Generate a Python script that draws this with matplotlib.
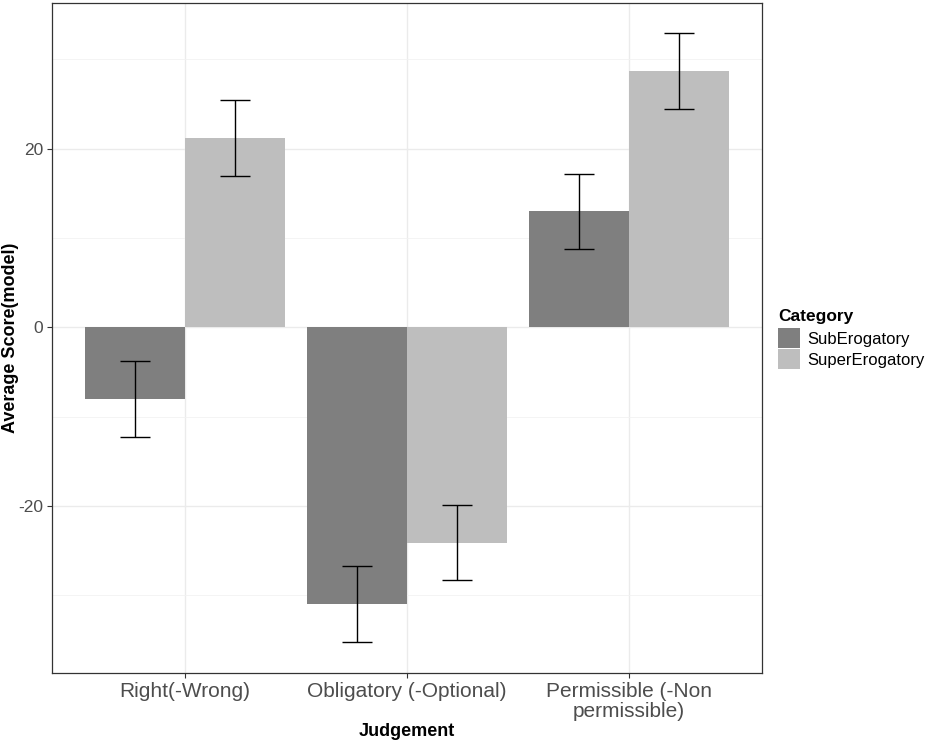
import matplotlib
matplotlib.use("Agg")
import matplotlib.pyplot as plt
from matplotlib.patches import Patch
import numpy as np

plt.rcParams['font.family'] = ['Liberation Sans', 'DejaVu Sans']

judgements = ["Right(-Wrong)", "Obligatory (-Optional)", "Permissible (-Non\npermissible)"]
categories = ["SubErogatory", "SuperErogatory"]
sub_means = [-8.0, -31.0, 13.0]
super_means = [21.2, -24.1, 28.7]
sub_err = [4.25, 4.25, 4.2]
super_err = [4.25, 4.2, 4.25]
colors = ["#7f7f7f", "#bebebe"]

fig = plt.figure(figsize=(9.26, 7.42), dpi=100)
ax = fig.add_axes([52/926, 69/742, 710/926, 670/742])

x = np.arange(1, len(judgements) + 1)
w = 0.45
for off, means, errs, col in [(-w/2, sub_means, sub_err, colors[0]),
                              (w/2, super_means, super_err, colors[1])]:
    ax.bar(x + off, means, width=w, color=col, zorder=2)
    ax.errorbar(x + off, means, yerr=errs, fmt='none', ecolor='black',
                elinewidth=1.0, capsize=11, capthick=1.0, zorder=3)

ax.set_xlim(0.4, 3.6)
ax.set_ylim(-38.7, 36.3)
ax.set_xticks(x)
ax.set_xticklabels(judgements, fontsize=15, color='#4d4d4d', linespacing=1.05)
ax.set_yticks([-20, 0, 20])
ax.set_yticklabels(["-20", "0", "20"], fontsize=12.5, color='#4d4d4d')
ax.set_yticks([-30, -10, 10, 30], minor=True)
ax.grid(True, which='major', color='#ebebeb', linewidth=1.0, zorder=0)
ax.grid(True, which='minor', axis='y', color='#f2f2f2', linewidth=0.6, zorder=0)
ax.tick_params(which='major', length=3.5, color='#333333', width=0.8, pad=3)
ax.tick_params(which='minor', length=0)
ax.set_axisbelow(True)
for s in ax.spines.values():
    s.set_color('#333333')
    s.set_linewidth(0.9)

ax.set_xlabel("Judgement", fontsize=13, fontweight='bold')
ax.xaxis.set_label_coords(0.5, -(731 - 673) / 670, transform=ax.transAxes)
ax.set_ylabel("Average Score(model)", fontsize=13, fontweight='bold')
ax.yaxis.set_label_coords(-(52 - 11) / 710, 0.5, transform=ax.transAxes)
ax.xaxis.label.set_va('center')
ax.yaxis.label.set_va('center')

handles = [Patch(facecolor=c, edgecolor='none') for c in colors]
leg = fig.legend(handles, categories, title="Category", loc='center left',
                 bbox_to_anchor=(778/926, 1 - 339/742), frameon=False,
                 fontsize=12, title_fontproperties={'weight': 'bold', 'size': 12.5},
                 handlelength=1.3, handleheight=1.45, handletextpad=0.45,
                 labelspacing=0.08, borderaxespad=0, borderpad=0)
leg._legend_box.align = "left"
leg._legend_box.sep = 3

fig.savefig("out.png", dpi=100)
